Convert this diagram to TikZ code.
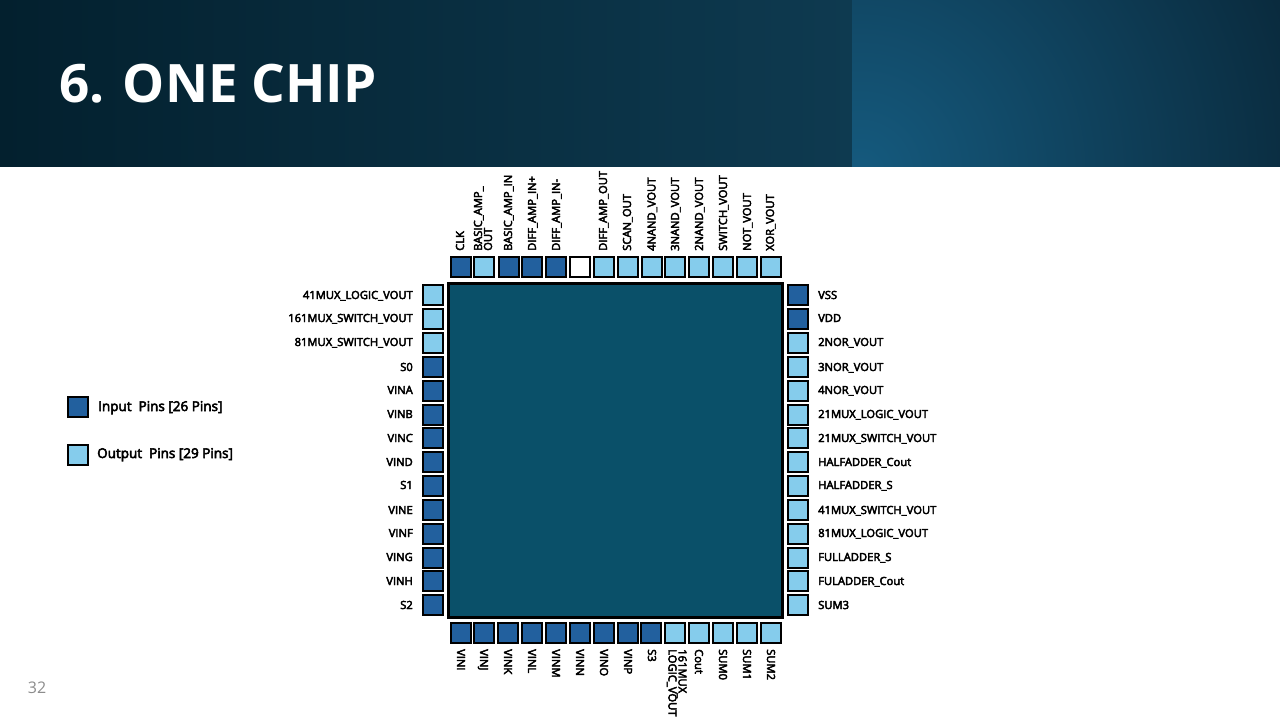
\documentclass[tikz,border=0pt]{standalone}
\usepackage{fontspec}
\setmainfont{Open Sans}
\newfontfamily\pinfont{Open Sans}[FakeBold=4]
\usepackage{xcolor}
\definecolor{chipfill}{HTML}{0A5069}
\definecolor{inpin}{HTML}{22609E}
\definecolor{outpin}{HTML}{85CCEC}
\definecolor{headL}{HTML}{03202E}
\definecolor{headC}{HTML}{05283A}
\definecolor{headM}{HTML}{0E3A50}
\definecolor{headR}{HTML}{155A7E}
\definecolor{headRb}{HTML}{0A2B3E}
\tikzset{
  pin/.style={draw=black,line width=2pt,minimum size=20pt,inner sep=0pt,outer sep=0pt},
  pinlabel/.style={font=\fontsize{11.2}{10}\selectfont\pinfont,inner sep=0pt,align=left,text height=8pt,text depth=0pt}
}

\begin{document}
\begin{tikzpicture}[x=1pt,y=-1pt]
  \useasboundingbox (0,0) rectangle (1280,720);
  % header band
  \shade[left color=headL,middle color=headC,right color=headM] (0,0) rectangle (852,166.6);
  \fill[headRb] (852,0) rectangle (1280,166.6);
  \begin{scope}
    \clip (852,0) rectangle (1280,166.6);
    \shade[inner color=headR,outer color=headRb] (860,172) circle (450);
  \end{scope}
  \node[anchor=base west,inner sep=0pt,text=white,font=\fontsize{53}{53}\selectfont\bfseries] (title) at (59,102.5) {6. ONE CHIP};
  \node[text=black!45,font=\fontsize{16}{16}\selectfont,inner sep=0pt] (pagenum) at (37,688) {32};
  % chip body
  \node[draw=black,fill=chipfill,line width=2.3pt,minimum size=334pt,inner sep=0pt] (chip) at (615.5,450.5) {};
  % left side
  \foreach \y/\ly/\lab/\col [count=\i] in {
    295/295/41MUX\_LOGIC\_VOUT/outpin,319/318/161MUX\_SWITCH\_VOUT/outpin,343/342/81MUX\_SWITCH\_VOUT/outpin,
    367/367/S0/inpin,391/390/VINA/inpin,415/414/VINB/inpin,438/438/VINC/inpin,462/462/VIND/inpin,486/485/S1/inpin,
    510/510/VINE/inpin,534/533/VINF/inpin,558/557/VING/inpin,581/581/VINH/inpin,605/605/S2/inpin}{
    \node[pin,fill=\col] (left\i) at (433,\y) {};
    \node[pinlabel,anchor=east] (leftlab\i) at (413,\ly) {\lab};
  }
  % right side
  \foreach \y/\ly/\lab/\col [count=\i] in {
    295/295/VSS/inpin,319/318/VDD/inpin,343/342/2NOR\_VOUT/outpin,367/367/3NOR\_VOUT/outpin,391/390/4NOR\_VOUT/outpin,
    415/414/21MUX\_LOGIC\_VOUT/outpin,438/438/21MUX\_SWITCH\_VOUT/outpin,462/462/HALFADDER\_Cout/outpin,486/485/HALFADDER\_S/outpin,
    510/510/41MUX\_SWITCH\_VOUT/outpin,534/533/81MUX\_LOGIC\_VOUT/outpin,558/557/FULLADDER\_S/outpin,581/581/FULADDER\_Cout/outpin,605/605/SUM3/outpin}{
    \node[pin,fill=\col] (right\i) at (798,\y) {};
    \node[pinlabel,anchor=west] (rightlab\i) at (818,\ly) {\lab};
  }
  % top side
  \foreach \x/\lx/\lab/\col [count=\i] in {
    461/460/CLK/inpin,484/488/{BASIC\_AMP\_\\OUT}/outpin,509/508/BASIC\_AMP\_IN/inpin,532/532/DIFF\_AMP\_IN+/inpin,556/556/DIFF\_AMP\_IN-/inpin,
    580/580/{}/white,604/603/DIFF\_AMP\_OUT/outpin,628/627/SCAN\_OUT/outpin,652/651.5/4NAND\_VOUT/outpin,675/675/3NAND\_VOUT/outpin,
    699/699/2NAND\_VOUT/outpin,723/723/SWITCH\_VOUT/outpin,747/747/NOT\_VOUT/outpin,771/770/XOR\_VOUT/outpin}{
    \node[pin,fill=\col] (top\i) at (\x,267) {};
    \node[pinlabel,anchor=west,rotate=90] (toplab\i) at (\lx,251) {\lab};
  }
  % bottom side
  \foreach \x/\lx/\lab/\col [count=\i] in {
    461/461/VINI/inpin,484/484/VINJ/inpin,508/508/VINK/inpin,532/532/VINL/inpin,556/556/VINM/inpin,580/580/VINN/inpin,604/604/VINO/inpin,628/628/VINP/inpin,
    651/652/S3/inpin,675/672.5/{161MUX\_\\LOGIC\_VOUT}/outpin,699/699/Cout/outpin,723/723/SUM0/outpin,747/747/SUM1/outpin,771/771/SUM2/outpin}{
    \node[pin,fill=\col] (bot\i) at (\x,633) {};
    \node[pinlabel,anchor=west,rotate=-90] (botlab\i) at (\lx,649) {\lab};
  }
  % legend
  \node[pin,fill=inpin] (legin) at (78,407) {};
  \node[pinlabel,anchor=west,font=\fontsize{13.5}{12}\selectfont\pinfont] (leginlab) at (98,407) {Input\ \ Pins [26 Pins]};
  \node[pin,fill=outpin] (legout) at (78,455) {};
  \node[pinlabel,anchor=west,font=\fontsize{13.5}{12}\selectfont\pinfont] (legoutlab) at (97,454) {Output\ \ Pins [29 Pins]};
\end{tikzpicture}
\end{document}
